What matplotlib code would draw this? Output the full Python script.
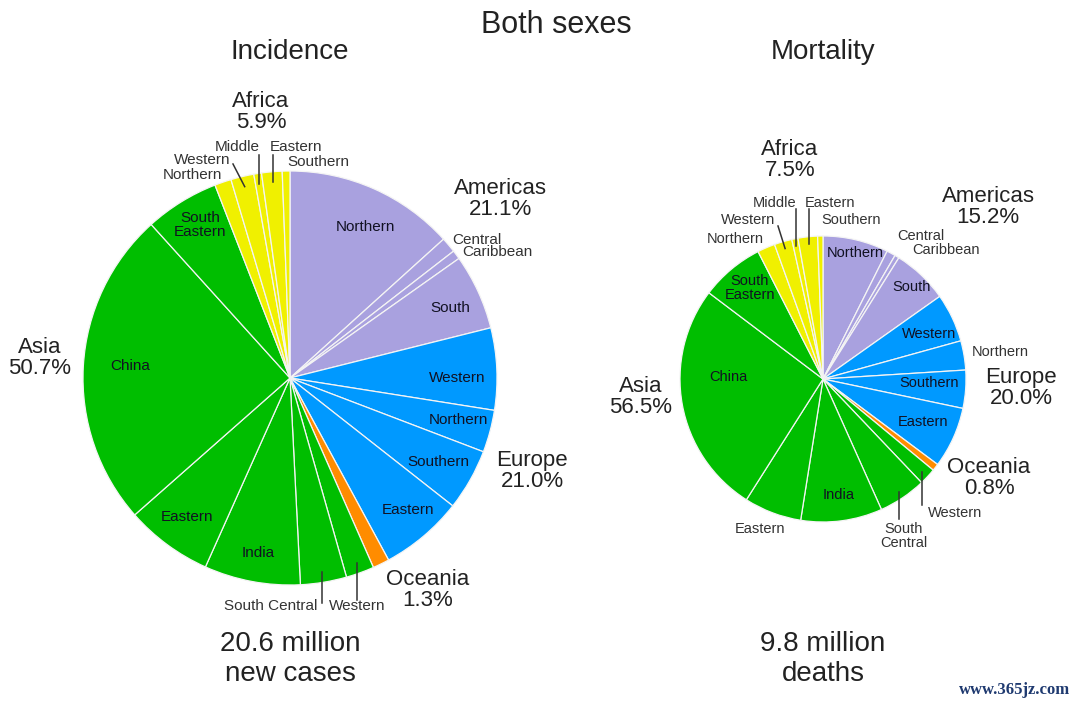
import numpy as np
import matplotlib.pyplot as plt

plt.rcParams['font.family'] = ['Liberation Sans', 'DejaVu Sans']

W, H = 1080, 707

# sub-regions, clockwise from 12 o'clock
continents = ['Americas'] * 4 + ['Europe'] * 4 + ['Oceania'] + ['Asia'] * 6 + ['Africa'] * 5
incidence = [13.3, 1.2, 0.7, 5.9,
             6.4, 3.3, 4.8, 6.5,
             1.3,
             2.2, 3.6, 7.5, 6.8, 24.8, 5.8,
             1.3, 1.8, 0.6, 1.6, 0.6]
mortality = [7.4, 1.0, 0.5, 6.3,
             5.5, 3.3, 4.3, 6.9,
             0.8,
             1.9, 5.4, 9.2, 6.5, 26.3, 7.2,
             2.0, 2.0, 0.7, 2.2, 0.6]
cont_names = ['Americas', 'Europe', 'Oceania', 'Asia', 'Africa']
colors = {'Americas': '#a9a1df', 'Europe': '#0099ff', 'Oceania': '#ff8c00',
          'Asia': '#00be00', 'Africa': '#f0f000'}

# label layouts (pixel positions, y from top): text, x, y, ha, outside?
inc_labels = [
    ('Northern', 365, 227, 'center', False),
    ('Central', 452, 240, 'left', True),
    ('Caribbean', 462, 252, 'left', True),
    ('South', 450, 308, 'center', False),
    ('Western', 457, 378, 'center', False),
    ('Northern', 458, 420, 'center', False),
    ('Southern', 438, 462, 'center', False),
    ('Eastern', 408, 510, 'center', False),
    None,
    ('Western', 357, 606, 'center', True),
    ('South Central', 271, 606, 'center', True),
    ('India', 258, 553, 'center', False),
    ('Eastern', 187, 517, 'center', False),
    ('China', 130, 366, 'center', False),
    ('South\nEastern', 200, 225, 'center', False),
    ('Northern', 192, 175, 'center', True),
    ('Western', 202, 160, 'center', True),
    ('Middle', 237, 147, 'center', True),
    ('Eastern', 296, 147, 'center', True),
    ('Southern', 318, 162, 'center', True),
]
mort_labels = [
    ('Northern', 855, 253, 'center', False),
    ('Central', 897, 236, 'left', True),
    ('Caribbean', 912, 250, 'left', True),
    ('South', 912, 287, 'center', False),
    ('Western', 929, 334, 'center', False),
    ('Northern', 1000, 352, 'center', True),
    ('Southern', 929, 383, 'center', False),
    ('Eastern', 923, 422, 'center', False),
    None,
    ('Western', 955, 513, 'center', True),
    ('South\nCentral', 904, 536, 'center', True),
    ('India', 839, 495, 'center', False),
    ('Eastern', 760, 529, 'center', True),
    ('China', 728, 377, 'center', False),
    ('South\nEastern', 750, 288, 'center', False),
    ('Northern', 735, 239, 'center', True),
    ('Western', 748, 220, 'center', True),
    ('Middle', 775, 203, 'center', True),
    ('Eastern', 830, 203, 'center', True),
    ('Southern', 851, 220, 'center', True),
]
# leader lines: index -> (x end or None for vertical, y end)
inc_leaders = {9: (None, 600), 10: (None, 603), 16: (233, 164), 17: (None, 155), 18: (None, 155)}
mort_leaders = {9: (None, 505), 10: (None, 519), 16: (778, 226), 17: (None, 209), 18: (None, 209)}
# continent label centres
inc_groups = {'Americas': (500, 199), 'Europe': (532, 471), 'Oceania': (428, 590),
              'Asia': (40, 358), 'Africa': (261, 112)}
mort_groups = {'Americas': (988, 207), 'Europe': (1021, 388), 'Oceania': (989, 478),
               'Asia': (641, 397), 'Africa': (790, 160)}

fig = plt.figure(figsize=(10.8, 7.07), dpi=100)
ax = fig.add_axes([0, 0, 1, 1])


def draw_pie(values, center, radius, labels, leaders, groups, sub_fs):
    cx, cy = center
    wedges, _ = ax.pie(values, colors=[colors[c] for c in continents],
                       startangle=90, counterclock=False,
                       center=(cx, H - cy), radius=radius,
                       wedgeprops=dict(edgecolor='#f4f4f4', linewidth=0.9))
    for i, lab in enumerate(labels):
        if lab is None:
            continue
        txt, x, y, ha, outside = lab
        ax.text(x, H - y, txt, ha=ha, va='center', fontsize=sub_fs,
                color='#333333' if outside else '#111122', linespacing=1.05)
    for i, (xe, ye) in leaders.items():
        w = wedges[i]
        th = np.deg2rad((w.theta1 + w.theta2) / 2)
        x0 = cx + 0.95 * radius * np.cos(th)
        y0 = H - cy + 0.95 * radius * np.sin(th)
        x1 = x0 if xe is None else xe
        ax.plot([x0, x1], [y0, H - ye], color='#333333', lw=1.1)
    for name in cont_names:
        tot = sum(v for v, c in zip(values, continents) if c == name)
        gx, gy = groups[name]
        ax.text(gx, H - gy, f'{name}\n{tot:.1f}%', ha='center', va='center',
                fontsize=16, color='#222222', linespacing=1.0)


draw_pie(incidence, (290, 378), 207, inc_labels, inc_leaders, inc_groups, 11)
draw_pie(mortality, (823, 379), 143, mort_labels, mort_leaders, mort_groups, 10.5)

ax.text(556, H - 25, 'Both sexes', ha='center', va='center', fontsize=22, color='#222222')
ax.text(290, H - 52, 'Incidence', ha='center', va='center', fontsize=20, color='#222222')
ax.text(823, H - 52, 'Mortality', ha='center', va='center', fontsize=20, color='#222222')
ax.text(290, H - 659, '20.6 million\nnew cases', ha='center', va='center', fontsize=20,
        color='#222222', linespacing=1.2)
ax.text(823, H - 659, '9.8 million\ndeaths', ha='center', va='center', fontsize=20,
        color='#222222', linespacing=1.2)
ax.text(1015, H - 690, 'www.365jz.com', ha='center', va='center', fontsize=12,
        fontweight='bold', family='Liberation Serif', color='#1f3a70')

ax.set_xlim(0, W)
ax.set_ylim(0, H)
ax.set_aspect('equal')
ax.axis('off')

fig.savefig('out.png', dpi=100)
